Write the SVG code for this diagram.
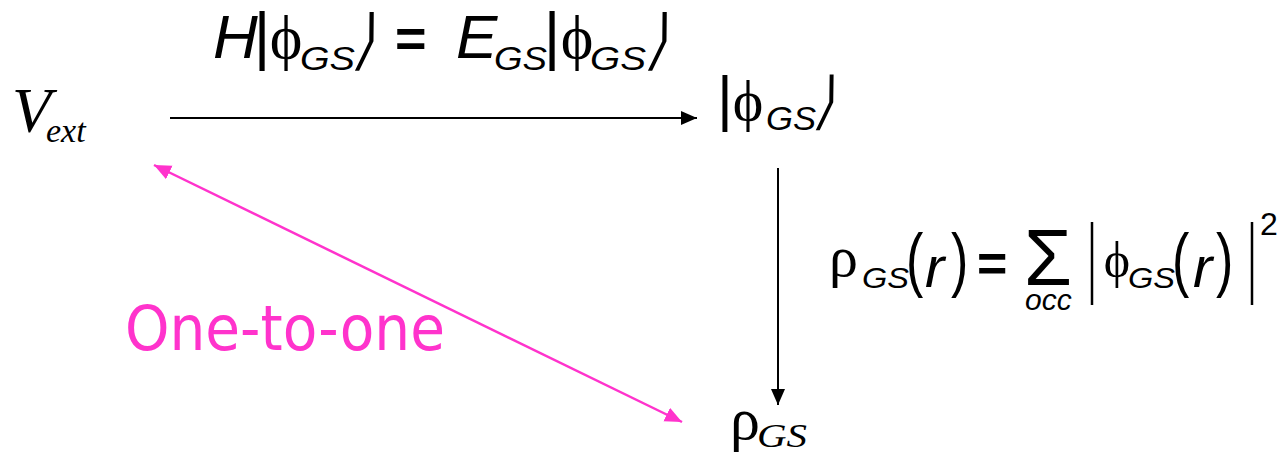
<svg xmlns="http://www.w3.org/2000/svg" width="1284" height="454" viewBox="0 0 1284 454">
<style>
.ai{font-family:"Liberation Sans",Arial,sans-serif;font-style:italic;fill:#000}
.as{font-family:"Liberation Sans",Arial,sans-serif;fill:#000}
.sy{font-family:"Liberation Serif","DejaVu Serif",serif;fill:#000}
.ti{font-family:"Liberation Serif","Times New Roman",serif;font-style:italic;fill:#000}
.br{font-family:"DejaVu Sans",sans-serif;fill:#000}
.pink{font-family:"DejaVu Sans",Verdana,sans-serif;fill:#FF33CC}
.blk{stroke:#000;stroke-width:2;fill:none}
.pk{stroke:#FF33CC;stroke-width:2.5;fill:none}
.bar{stroke:#000;stroke-width:2.5}
</style>
<defs>
<marker id="ah" markerUnits="userSpaceOnUse" markerWidth="18" markerHeight="16" refX="16" refY="7" orient="auto">
<path d="M0,0 L16,7 L0,14 Z" fill="#000"/>
</marker>
<marker id="ahp" markerUnits="userSpaceOnUse" markerWidth="19" markerHeight="16" refX="17" refY="7.5" orient="auto-start-reverse">
<path d="M0,0 L17,7.5 L0,15 Z" fill="#FF33CC"/>
</marker>
</defs>

<g id="connectors">
<line class="blk" x1="170" y1="118" x2="697" y2="118" marker-end="url(#ah)"/>
<line class="blk" x1="778" y1="168" x2="778" y2="405" marker-end="url(#ah)"/>
<line class="pk" x1="154" y1="165" x2="682" y2="422" marker-start="url(#ahp)" marker-end="url(#ahp)"/>
</g>

<g id="schrodinger-label">
<text class="ai" x="213" y="58" font-size="62">H</text>
<text class="as" x="262" y="58" font-size="64" text-anchor="middle">|</text>
<text class="sy" x="286" y="58" font-size="62" text-anchor="middle">ϕ</text>
<text class="ai" x="300" y="70" font-size="33" textLength="55" lengthAdjust="spacingAndGlyphs">GS</text>
<text class="br" font-size="60" transform="translate(353 62) skewX(-14) scale(0.85 1.1)">⟩</text>
<text class="as" x="395" y="57" font-size="54" font-weight="bold">=</text>
<text class="ai" x="456" y="58" font-size="62">E</text>
<text class="ai" x="494" y="70" font-size="33" textLength="53" lengthAdjust="spacingAndGlyphs">GS</text>
<text class="as" x="552" y="58" font-size="64" text-anchor="middle">|</text>
<text class="sy" x="577" y="58" font-size="62" text-anchor="middle">ϕ</text>
<text class="ai" x="590" y="70" font-size="33" textLength="56" lengthAdjust="spacingAndGlyphs">GS</text>
<text class="br" font-size="60" transform="translate(646 62) skewX(-14) scale(0.85 1.1)">⟩</text>
</g>

<g id="node-vext">
<text class="ti" x="12" y="132" font-size="64">V</text>
<text class="ti" x="46" y="142" font-size="34">ext</text>
</g>

<g id="node-phi">
<text class="as" x="725" y="119" font-size="61" text-anchor="middle">|</text>
<text class="sy" x="748" y="120" font-size="58" text-anchor="middle">ϕ</text>
<text class="ai" x="766" y="130" font-size="33" textLength="50" lengthAdjust="spacingAndGlyphs">GS</text>
<text class="br" font-size="56" transform="translate(814 122) skewX(-14) scale(0.85 1.12)">⟩</text>
</g>

<g id="density-label">
<text class="sy" x="829" y="276" font-size="58">ρ</text>
<text class="ai" x="862" y="288" font-size="30" textLength="47" lengthAdjust="spacingAndGlyphs">GS</text>
<text class="as" font-size="52" transform="translate(906 283) scale(1 1.35)">(</text>
<text class="ai" x="925" y="287" font-size="58">r</text>
<text class="as" font-size="52" transform="translate(951 283) scale(1 1.35)">)</text>
<text class="as" x="977" y="281" font-size="52" font-weight="bold">=</text>
<text class="as" x="1024" y="285" font-size="80" textLength="48" lengthAdjust="spacingAndGlyphs">Σ</text>
<text class="ai" x="1025" y="310" font-size="30">occ</text>
<line class="bar" x1="1092" y1="222" x2="1092" y2="305"/>
<text class="sy" x="1117" y="277" font-size="50" text-anchor="middle">ϕ</text>
<text class="ai" x="1128" y="288" font-size="30" textLength="47" lengthAdjust="spacingAndGlyphs">GS</text>
<text class="as" font-size="52" transform="translate(1172 283) scale(1 1.35)">(</text>
<text class="ai" x="1193" y="287" font-size="58">r</text>
<text class="as" font-size="52" transform="translate(1216 283) scale(1 1.35)">)</text>
<line class="bar" x1="1252" y1="222" x2="1252" y2="305"/>
<text class="as" x="1260" y="235" font-size="32">2</text>
</g>

<g id="node-rho">
<text class="sy" x="730" y="439" font-size="60">ρ</text>
<text class="ti" x="757" y="447" font-size="33" textLength="50" lengthAdjust="spacingAndGlyphs">GS</text>
</g>

<g id="one-to-one-label">
<text class="pink" x="125" y="350" font-size="62" textLength="320" lengthAdjust="spacingAndGlyphs">One-to-one</text>
</g>
</svg>
